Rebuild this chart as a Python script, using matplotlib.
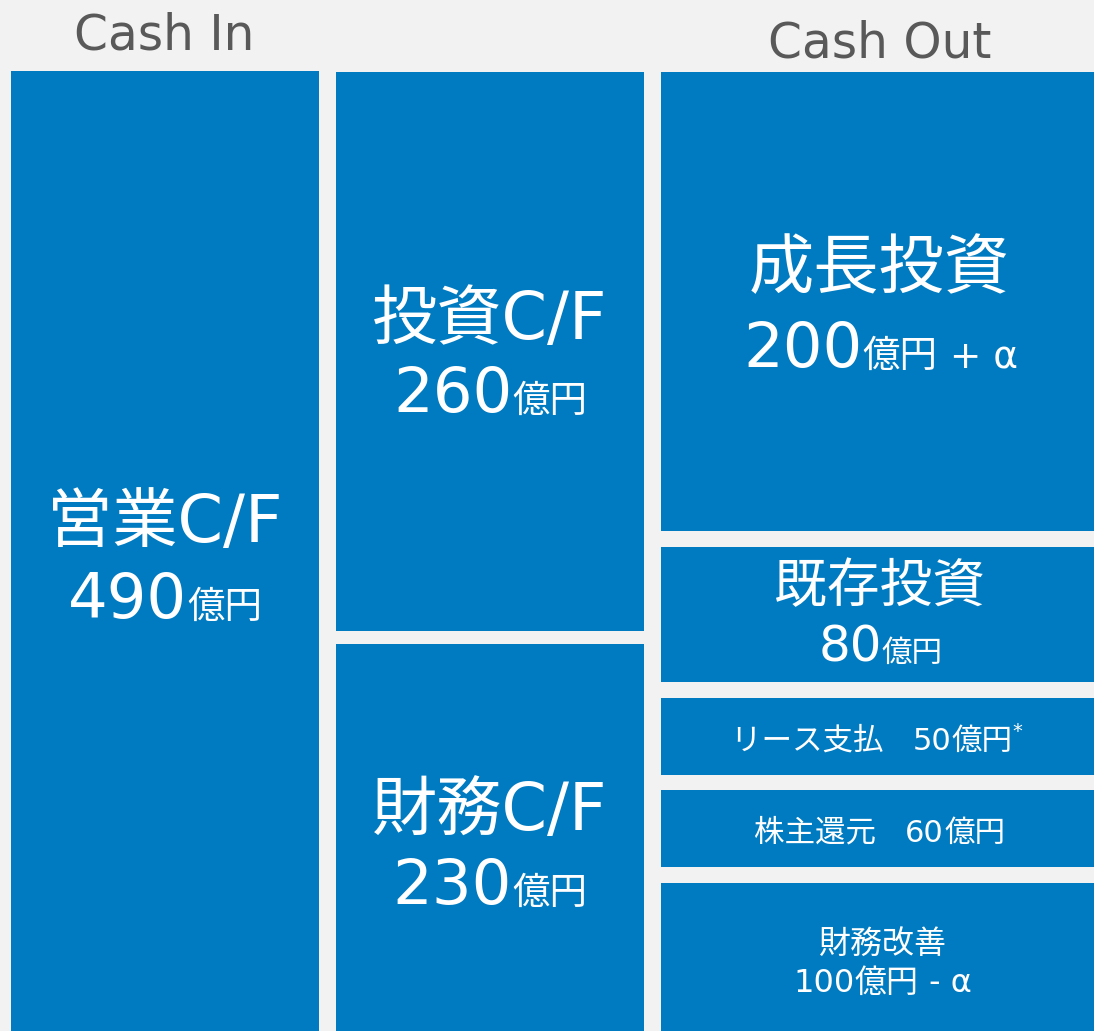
import matplotlib
matplotlib.use('Agg')
import matplotlib.pyplot as plt
from matplotlib.patches import Rectangle

# ---------------- data ----------------
in_labels = ['営業C/F']
in_values = [490]
mid_labels = ['投資C/F', '財務C/F']
mid_values = [260, 230]
out_labels = ['成長投資', '既存投資', 'リース支払', '株主還元', '財務改善']
out_values = [200, 80, 50, 60, 100]
out_suffix = [' + α', '', '*', '', ' - α']
unit = '億円'
headers = ['Cash In', 'Cash Out']

# ---------------- layout (pixels) ----------------
W, H = 1094, 1031
BG = '#f2f2f2'
BLUE = '#007bc1'
GRAY = '#595959'

# boxes: (x0, x1, y0, y1)
in_boxes = [(11, 319, 71, 1031)]
mid_boxes = [(336, 644, 72, 631), (336, 644, 644, 1031)]
out_boxes = [(661, 1094, 72, 531), (661, 1094, 547, 682), (661, 1094, 698, 775),
             (661, 1094, 790, 867), (661, 1094, 883, 1031)]

plt.rcParams['font.family'] = ['DejaVu Sans', 'Noto Sans CJK JP']

fig = plt.figure(figsize=(W / 100, H / 100), dpi=100, facecolor=BG)
ax = fig.add_axes([0, 0, 1, 1])
ax.set_xlim(0, W)
ax.set_ylim(H, 0)
ax.axis('off')
ax.set_facecolor(BG)
renderer = fig.canvas.get_renderer()


def draw_line(segments, xc, yb, color='white'):
    """segments: list of (text, size_pt, dy_px). Centered at xc, baseline yb."""
    texts = []
    widths = []
    for s, size, dy in segments:
        t = ax.text(0, yb + dy, s, fontsize=size, color=color, ha='left', va='baseline')
        bb = t.get_window_extent(renderer)
        texts.append(t)
        widths.append(bb.width)
    total = sum(widths)
    x = xc - total / 2
    for t, w in zip(texts, widths):
        t.set_x(x)
        x += w


for boxes in (in_boxes, mid_boxes, out_boxes):
    for (x0, x1, y0, y1) in boxes:
        ax.add_patch(Rectangle((x0, y0), x1 - x0, y1 - y0, facecolor=BLUE, edgecolor='none'))

# headers
draw_line([(headers[0], 35, 0)], 164, 50, color=GRAY)
draw_line([(headers[1], 35, 0)], 880, 57, color=GRAY)

# Cash In
cx = (in_boxes[0][0] + in_boxes[0][1]) / 2
draw_line([(in_labels[0], 47, 0)], cx, 542)
draw_line([(str(in_values[0]), 45, 0), (unit, 27, 0)], cx, 618)

# middle column
mid_base = [(339, 412), (830, 904)]
for lab, val, box, (b1, b2) in zip(mid_labels, mid_values, mid_boxes, mid_base):
    cx = (box[0] + box[1]) / 2
    draw_line([(lab, 47, 0)], cx, b1)
    draw_line([(str(val), 45, 0), (unit, 27, 0)], cx, b2)

# Cash Out
cx = (out_boxes[0][0] + out_boxes[0][1]) / 2
draw_line([(out_labels[0], 47, 0)], cx + 2, 288)
draw_line([(str(out_values[0]), 45, 0), (unit, 27, 0), (out_suffix[0], 27, 0)], cx + 3, 367)

draw_line([(out_labels[1], 38, 0)], cx + 2, 602)
draw_line([(str(out_values[1]), 36, 0), (unit, 22, 0)], cx + 3, 662)

draw_line([(out_labels[2] + '   ', 22, 0), (str(out_values[2]), 22, 0), (unit, 22, 0),
           (out_suffix[2], 14, -13)], cx - 1, 750)
draw_line([(out_labels[3] + '   ', 22, 0), (str(out_values[3]), 22, 0), (unit, 22, 0)],
          cx + 2, 842)

draw_line([(out_labels[4], 23, 0)], cx + 5, 953)
draw_line([(str(out_values[4]), 23, 0), (unit, 23, 0), (out_suffix[4], 23, 0)], cx + 5, 992)

fig.savefig('out.png', dpi=100, facecolor=BG)
